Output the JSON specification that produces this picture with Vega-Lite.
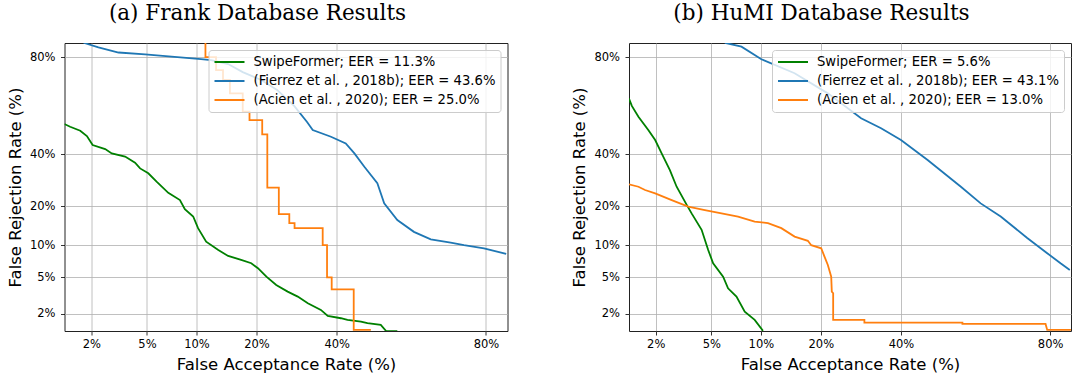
{
  "$schema": "https://vega.github.io/schema/vega-lite/v6.json",
  "padding": {"left": 6.5, "top": 2, "right": 0, "bottom": 0},
  "config": {
    "font": "DejaVu Sans",
    "view": {"stroke": "#222", "strokeWidth": 1},
    "axis": {"labelFont": "DejaVu Sans", "labelFontSize": 11.5, "labelColor": "#000", "titleFont": "DejaVu Sans", "titleFontSize": 16.5, "titleFontWeight": "normal", "titleColor": "#000", "gridColor": "#b0b0b0", "gridWidth": 0.8, "tickColor": "#000", "tickSize": 4, "tickWidth": 0.8, "domain": false},
    "axisX": {"titlePadding": 6, "labelPadding": 3.5},
    "axisY": {"titlePadding": 6, "labelPadding": 5.5},
    "legend": {"fillColor": "rgba(255,255,255,0.8)", "strokeColor": "#cccccc", "cornerRadius": 3, "padding": 5, "offset": 7, "labelFont": "DejaVu Sans", "labelFontSize": 13.2, "labelColor": "#000", "symbolType": "M-1,0H4", "symbolStrokeWidth": 2, "symbolSize": 144, "labelOffset": 26, "rowPadding": 5, "labelLimit": 400},
    "title": {"font": "DejaVu Serif", "fontSize": 21.5, "fontWeight": "normal", "color": "#000", "offset": 18.5, "anchor": "middle", "frame": "bounds"},
    "concat": {"spacing": 62.5}
  },
  "datasets": {
    "frank": [
      {"method": "SwipeFormer", "far": 1.22, "frr": 53.4},
      {"method": "SwipeFormer", "far": 1.36, "frr": 52.2},
      {"method": "SwipeFormer", "far": 1.64, "frr": 50.4},
      {"method": "SwipeFormer", "far": 1.85, "frr": 48.0},
      {"method": "SwipeFormer", "far": 2.05, "frr": 44.0},
      {"method": "SwipeFormer", "far": 2.55, "frr": 42.2},
      {"method": "SwipeFormer", "far": 2.85, "frr": 40.3},
      {"method": "SwipeFormer", "far": 3.55, "frr": 38.9},
      {"method": "SwipeFormer", "far": 4.16, "frr": 36.3},
      {"method": "SwipeFormer", "far": 4.5, "frr": 33.9},
      {"method": "SwipeFormer", "far": 5.1, "frr": 31.9},
      {"method": "SwipeFormer", "far": 5.77, "frr": 28.6},
      {"method": "SwipeFormer", "far": 6.83, "frr": 24.5},
      {"method": "SwipeFormer", "far": 8.03, "frr": 22.0},
      {"method": "SwipeFormer", "far": 8.58, "frr": 19.1},
      {"method": "SwipeFormer", "far": 9.58, "frr": 16.9},
      {"method": "SwipeFormer", "far": 10.2, "frr": 13.8},
      {"method": "SwipeFormer", "far": 11.3, "frr": 10.7},
      {"method": "SwipeFormer", "far": 13.1, "frr": 9.07},
      {"method": "SwipeFormer", "far": 14.7, "frr": 8.03},
      {"method": "SwipeFormer", "far": 17.0, "frr": 7.38},
      {"method": "SwipeFormer", "far": 18.95, "frr": 6.87},
      {"method": "SwipeFormer", "far": 20.3, "frr": 6.16},
      {"method": "SwipeFormer", "far": 22.1, "frr": 5.08},
      {"method": "SwipeFormer", "far": 24.3, "frr": 4.18},
      {"method": "SwipeFormer", "far": 27.0, "frr": 3.55},
      {"method": "SwipeFormer", "far": 29.5, "frr": 3.13},
      {"method": "SwipeFormer", "far": 32.1, "frr": 2.64},
      {"method": "SwipeFormer", "far": 35.6, "frr": 2.21},
      {"method": "SwipeFormer", "far": 37.5, "frr": 1.88},
      {"method": "SwipeFormer", "far": 41.2, "frr": 1.76},
      {"method": "SwipeFormer", "far": 43.1, "frr": 1.68},
      {"method": "SwipeFormer", "far": 47.0, "frr": 1.6},
      {"method": "SwipeFormer", "far": 48.9, "frr": 1.53},
      {"method": "SwipeFormer", "far": 52.8, "frr": 1.46},
      {"method": "SwipeFormer", "far": 54.3, "frr": 1.23},
      {"method": "SwipeFormer", "far": 57.6, "frr": 1.22},
      {"method": "Fierrez", "far": 1.74, "frr": 84.2},
      {"method": "Fierrez", "far": 2.27, "frr": 82.9},
      {"method": "Fierrez", "far": 3.19, "frr": 81.4},
      {"method": "Fierrez", "far": 4.86, "frr": 80.8},
      {"method": "Fierrez", "far": 7.15, "frr": 80.1},
      {"method": "Fierrez", "far": 10.6, "frr": 79.3},
      {"method": "Fierrez", "far": 12.0, "frr": 79.0},
      {"method": "Fierrez", "far": 14.7, "frr": 77.7},
      {"method": "Fierrez", "far": 17.3, "frr": 74.9},
      {"method": "Fierrez", "far": 21.0, "frr": 72.0},
      {"method": "Fierrez", "far": 24.5, "frr": 68.1},
      {"method": "Fierrez", "far": 28.6, "frr": 61.4},
      {"method": "Fierrez", "far": 31.9, "frr": 54.3},
      {"method": "Fierrez", "far": 33.4, "frr": 50.7},
      {"method": "Fierrez", "far": 38.4, "frr": 47.7},
      {"method": "Fierrez", "far": 42.6, "frr": 44.7},
      {"method": "Fierrez", "far": 45.1, "frr": 40.3},
      {"method": "Fierrez", "far": 48.0, "frr": 34.6},
      {"method": "Fierrez", "far": 51.8, "frr": 28.0},
      {"method": "Fierrez", "far": 53.8, "frr": 20.9},
      {"method": "Fierrez", "far": 57.6, "frr": 15.9},
      {"method": "Fierrez", "far": 62.3, "frr": 12.9},
      {"method": "Fierrez", "far": 66.9, "frr": 11.2},
      {"method": "Fierrez", "far": 72.0, "frr": 10.5},
      {"method": "Fierrez", "far": 75.2, "frr": 10.0},
      {"method": "Fierrez", "far": 79.6, "frr": 9.4},
      {"method": "Fierrez", "far": 83.9, "frr": 8.4},
      {"method": "Acien", "far": 11.2, "frr": 95},
      {"method": "Acien", "far": 11.2, "frr": 80},
      {"method": "Acien", "far": 12.75, "frr": 80},
      {"method": "Acien", "far": 12.75, "frr": 75.6},
      {"method": "Acien", "far": 13.85, "frr": 75.6},
      {"method": "Acien", "far": 13.85, "frr": 72},
      {"method": "Acien", "far": 15.0, "frr": 72},
      {"method": "Acien", "far": 15.0, "frr": 66.7},
      {"method": "Acien", "far": 17.3, "frr": 66.7},
      {"method": "Acien", "far": 17.3, "frr": 58.9},
      {"method": "Acien", "far": 18.6, "frr": 58.9},
      {"method": "Acien", "far": 18.6, "frr": 55.2},
      {"method": "Acien", "far": 21.2, "frr": 55.2},
      {"method": "Acien", "far": 21.2, "frr": 48.8},
      {"method": "Acien", "far": 22.3, "frr": 48.8},
      {"method": "Acien", "far": 22.3, "frr": 26.4},
      {"method": "Acien", "far": 24.9, "frr": 26.4},
      {"method": "Acien", "far": 24.9, "frr": 17.6},
      {"method": "Acien", "far": 27.4, "frr": 17.6},
      {"method": "Acien", "far": 27.4, "frr": 15.1},
      {"method": "Acien", "far": 28.7, "frr": 15.1},
      {"method": "Acien", "far": 28.7, "frr": 13.8},
      {"method": "Acien", "far": 36.1, "frr": 13.8},
      {"method": "Acien", "far": 36.1, "frr": 10.0},
      {"method": "Acien", "far": 37.3, "frr": 10.0},
      {"method": "Acien", "far": 37.3, "frr": 5.0},
      {"method": "Acien", "far": 38.6, "frr": 5.0},
      {"method": "Acien", "far": 38.6, "frr": 3.76},
      {"method": "Acien", "far": 44.9, "frr": 3.76},
      {"method": "Acien", "far": 44.9, "frr": 1.26},
      {"method": "Acien", "far": 49.9, "frr": 1.26}
    ],
    "humi": [
      {"method": "SwipeFormer", "far": 1.22, "frr": 64.6},
      {"method": "SwipeFormer", "far": 1.29, "frr": 61.4},
      {"method": "SwipeFormer", "far": 1.46, "frr": 56.7},
      {"method": "SwipeFormer", "far": 1.75, "frr": 50.7},
      {"method": "SwipeFormer", "far": 1.98, "frr": 46.2},
      {"method": "SwipeFormer", "far": 2.22, "frr": 40.3},
      {"method": "SwipeFormer", "far": 2.56, "frr": 33.2},
      {"method": "SwipeFormer", "far": 2.87, "frr": 26.7},
      {"method": "SwipeFormer", "far": 3.39, "frr": 20.4},
      {"method": "SwipeFormer", "far": 3.67, "frr": 17.8},
      {"method": "SwipeFormer", "far": 4.3, "frr": 13.4},
      {"method": "SwipeFormer", "far": 4.76, "frr": 9.08},
      {"method": "SwipeFormer", "far": 5.13, "frr": 6.86},
      {"method": "SwipeFormer", "far": 5.95, "frr": 5.08},
      {"method": "SwipeFormer", "far": 6.39, "frr": 3.85},
      {"method": "SwipeFormer", "far": 7.2, "frr": 3.13},
      {"method": "SwipeFormer", "far": 8.07, "frr": 2.11},
      {"method": "SwipeFormer", "far": 9.22, "frr": 1.68},
      {"method": "SwipeFormer", "far": 10.27, "frr": 1.23},
      {"method": "Fierrez", "far": 6.1, "frr": 84.2},
      {"method": "Fierrez", "far": 7.72, "frr": 83.1},
      {"method": "Fierrez", "far": 10.06, "frr": 79.3},
      {"method": "Fierrez", "far": 15.05, "frr": 74.5},
      {"method": "Fierrez", "far": 21.47, "frr": 66.7},
      {"method": "Fierrez", "far": 29.25, "frr": 56.0},
      {"method": "Fierrez", "far": 34.48, "frr": 51.5},
      {"method": "Fierrez", "far": 40.0, "frr": 46.2},
      {"method": "Fierrez", "far": 47.7, "frr": 37.4},
      {"method": "Fierrez", "far": 57.4, "frr": 26.7},
      {"method": "Fierrez", "far": 63.0, "frr": 20.9},
      {"method": "Fierrez", "far": 68.4, "frr": 16.9},
      {"method": "Fierrez", "far": 74.97, "frr": 11.5},
      {"method": "Fierrez", "far": 79.4, "frr": 8.5},
      {"method": "Fierrez", "far": 82.07, "frr": 6.86},
      {"method": "Fierrez", "far": 83.8, "frr": 5.93},
      {"method": "Acien", "far": 1.22, "frr": 27.6},
      {"method": "Acien", "far": 1.46, "frr": 26.7},
      {"method": "Acien", "far": 1.65, "frr": 25.5},
      {"method": "Acien", "far": 1.98, "frr": 24.3},
      {"method": "Acien", "far": 2.64, "frr": 22.0},
      {"method": "Acien", "far": 3.47, "frr": 19.85},
      {"method": "Acien", "far": 4.52, "frr": 18.8},
      {"method": "Acien", "far": 5.81, "frr": 17.8},
      {"method": "Acien", "far": 7.36, "frr": 16.9},
      {"method": "Acien", "far": 9.22, "frr": 15.5},
      {"method": "Acien", "far": 10.94, "frr": 15.1},
      {"method": "Acien", "far": 12.89, "frr": 13.8},
      {"method": "Acien", "far": 15.05, "frr": 11.8},
      {"method": "Acien", "far": 17.44, "frr": 10.9},
      {"method": "Acien", "far": 18.09, "frr": 10.0},
      {"method": "Acien", "far": 20.08, "frr": 9.4},
      {"method": "Acien", "far": 20.76, "frr": 7.92},
      {"method": "Acien", "far": 21.47, "frr": 6.62},
      {"method": "Acien", "far": 22.2, "frr": 5.08},
      {"method": "Acien", "far": 22.33, "frr": 3.55},
      {"method": "Acien", "far": 22.63, "frr": 3.41},
      {"method": "Acien", "far": 22.63, "frr": 1.68},
      {"method": "Acien", "far": 30.09, "frr": 1.68},
      {"method": "Acien", "far": 30.09, "frr": 1.56},
      {"method": "Acien", "far": 57.84, "frr": 1.56},
      {"method": "Acien", "far": 57.84, "frr": 1.5},
      {"method": "Acien", "far": 79.05, "frr": 1.5},
      {"method": "Acien", "far": 79.4, "frr": 1.26},
      {"method": "Acien", "far": 84.0, "frr": 1.26}
    ]
  },
  "resolve": {"scale": {"color": "independent"}, "legend": {"color": "independent"}},
  "hconcat": [
    {
      "title": {"text": "(a) Frank Database Results"},
      "width": 443,
      "height": 288,
      "data": {"name": "frank"},
      "transform": [
        {"calculate": "quantileNormal(datum.far / 100)", "as": "far_probit"},
        {"calculate": "quantileNormal(datum.frr / 100)", "as": "frr_probit"}
      ],
      "mark": {"type": "line", "strokeWidth": 1.8, "clip": true},
      "encoding": {
        "x": {"field": "far_probit", "type": "quantitative", "scale": {"domain": [-2.25, 1.0], "nice": false, "zero": false},
              "axis": {"values": [-2.0537, -1.6449, -1.2816, -0.8416, -0.2533, 0.8416], "labelExpr": "format(cumulativeNormal(datum.value), '.0%')", "title": "False Acceptance Rate (%)"}},
        "y": {"field": "frr_probit", "type": "quantitative", "scale": {"domain": [-2.25, 1.0], "nice": false, "zero": false},
              "axis": {"values": [-2.0537, -1.6449, -1.2816, -0.8416, -0.2533, 0.8416], "labelExpr": "format(cumulativeNormal(datum.value), '.0%')", "title": "False Rejection Rate (%)"}},
        "color": {"field": "method", "type": "nominal",
                  "scale": {"domain": ["SwipeFormer", "Fierrez", "Acien"], "range": ["#008000", "#1f77b4", "#ff7f0e"]},
                  "legend": {"title": null, "orient": "top-right", "labelExpr": "datum.label == 'SwipeFormer' ? 'SwipeFormer; EER = 11.3%' : datum.label == 'Fierrez' ? '(Fierrez et al. , 2018b); EER = 43.6%' : '(Acien et al. , 2020); EER = 25.0%'"}},
        "order": {"value": null}
      }
    },
    {
      "title": {"text": "(b) HuMI Database Results"},
      "width": 442,
      "height": 288,
      "data": {"name": "humi"},
      "transform": [
        {"calculate": "quantileNormal(datum.far / 100)", "as": "far_probit"},
        {"calculate": "quantileNormal(datum.frr / 100)", "as": "frr_probit"}
      ],
      "mark": {"type": "line", "strokeWidth": 1.8, "clip": true},
      "encoding": {
        "x": {"field": "far_probit", "type": "quantitative", "scale": {"domain": [-2.25, 0.995], "nice": false, "zero": false},
              "axis": {"values": [-2.0537, -1.6449, -1.2816, -0.8416, -0.2533, 0.8416], "labelExpr": "format(cumulativeNormal(datum.value), '.0%')", "title": "False Acceptance Rate (%)"}},
        "y": {"field": "frr_probit", "type": "quantitative", "scale": {"domain": [-2.25, 1.0], "nice": false, "zero": false},
              "axis": {"values": [-2.0537, -1.6449, -1.2816, -0.8416, -0.2533, 0.8416], "labelExpr": "format(cumulativeNormal(datum.value), '.0%')", "title": "False Rejection Rate (%)"}},
        "color": {"field": "method", "type": "nominal",
                  "scale": {"domain": ["SwipeFormer", "Fierrez", "Acien"], "range": ["#008000", "#1f77b4", "#ff7f0e"]},
                  "legend": {"title": null, "orient": "top-right", "labelExpr": "datum.label == 'SwipeFormer' ? 'SwipeFormer; EER = 5.6%' : datum.label == 'Fierrez' ? '(Fierrez et al. , 2018b); EER = 43.1%' : '(Acien et al. , 2020); EER = 13.0%'"}},
        "order": {"value": null}
      }
    }
  ]
}
